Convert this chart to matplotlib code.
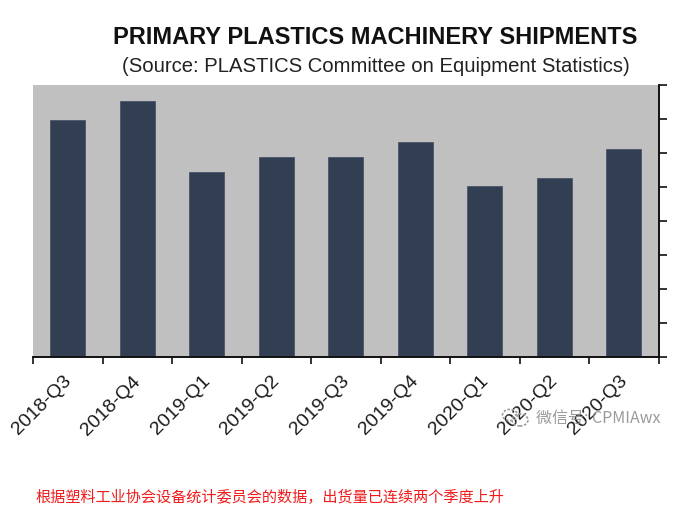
import matplotlib
matplotlib.use("Agg")
import matplotlib.pyplot as plt
from matplotlib.patches import Circle

categories = ["2018-Q3", "2018-Q4", "2019-Q1", "2019-Q2", "2019-Q3",
              "2019-Q4", "2020-Q1", "2020-Q2", "2020-Q3"]
values = [6.97, 7.53, 5.44, 5.88, 5.88, 6.32, 5.03, 5.26, 6.12]
title = "PRIMARY PLASTICS MACHINERY SHIPMENTS"
subtitle = "(Source: PLASTICS Committee on Equipment Statistics)"
caption = "根据塑料工业协会设备统计委员会的数据，出货量已连续两个季度上升"
watermark = "微信号: CPMIAwx"

W, H = 698, 523
fig = plt.figure(figsize=(W / 100, H / 100), dpi=100, facecolor="white")
ax = fig.add_axes([33 / W, 1 - 357 / H, 625.5 / W, 272 / H])
ax.set_facecolor("#c0c0c0")
pos = list(range(len(categories)))
ax.bar(pos, values, width=0.5, color="#323e51", edgecolor="#4a5568", linewidth=0.6, zorder=2)
ax.set_xlim(-0.5, len(categories) - 0.5)
ax.set_ylim(0, 8)

for s in ["top", "left"]:
    ax.spines[s].set_visible(False)
for s in ["bottom", "right"]:
    ax.spines[s].set_linewidth(1.4)
    ax.spines[s].set_color("#111111")

ax.yaxis.tick_right()
ax.set_yticks(range(9))
ax.set_yticklabels([])
ax.tick_params(axis="y", length=5.5, width=1.2, color="#111111")
ax.set_xticks([p - 0.5 for p in pos] + [len(categories) - 0.5])
ax.set_xticklabels([])
ax.tick_params(axis="x", length=5, width=1.2, color="#111111")

for p, c in zip(pos, categories):
    ax.annotate(c, xy=(p, 0), xycoords=("data", "axes fraction"),
                xytext=(-19, -35), textcoords="offset points",
                rotation=45, rotation_mode="anchor", ha="center", va="center",
                family="Liberation Sans", fontsize=14, color="#1a1a1a")

fig.text(375 / W, 1 - 38 / H, title, ha="center", va="center",
         family="Liberation Sans", fontweight="bold", fontsize=17, color="#111111")
fig.text(376 / W, 1 - 67 / H, subtitle, ha="center", va="center",
         family="Liberation Sans", fontsize=14.6, color="#222222")

fig.text(35 / W, 1 - 497 / H, caption, ha="left", va="center", color="#ee1c1c",
         family=["Noto Sans CJK SC", "DejaVu Sans"], fontsize=10.9, style="italic")

fig.text(536 / W, 1 - 418 / H, watermark, ha="left", va="center", color="#8a8a8a", alpha=0.85,
         family=["Noto Sans CJK SC", "DejaVu Sans"], fontsize=11.5)
for cx, cy, r in [(510, 415, 7.5), (520, 420, 8)]:
    fig.add_artist(Circle((cx / W, 1 - cy / H), r / W, transform=fig.transFigure, fill=False,
                          edgecolor="#9a9a9a", linewidth=1.2, linestyle=(0, (1.5, 1))))

fig.savefig("out.png", dpi=100)
